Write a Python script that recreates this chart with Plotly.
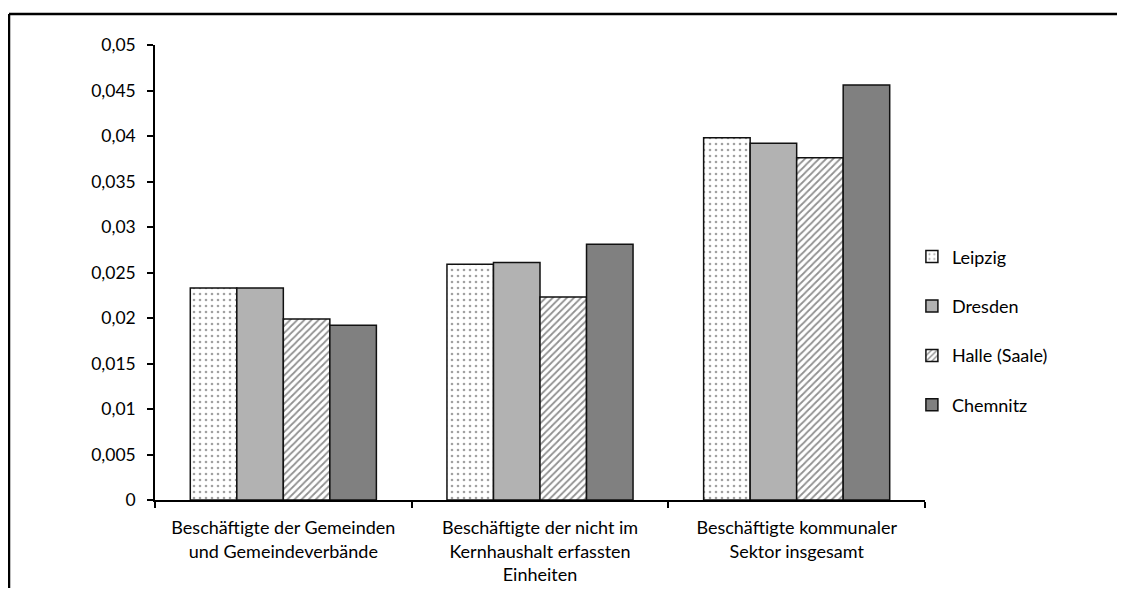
import plotly.graph_objects as go

categories = [
    "Beschäftigte der Gemeinden<br>und Gemeindeverbände",
    "Beschäftigte der nicht im<br>Kernhaushalt erfassten<br>Einheiten",
    "Beschäftigte kommunaler<br>Sektor insgesamt",
]
series_names = ["Leipzig", "Dresden", "Halle (Saale)", "Chemnitz"]
leipzig = [0.0233, 0.0259, 0.0398]
dresden = [0.0233, 0.0261, 0.0392]
halle = [0.0199, 0.0223, 0.0376]
chemnitz = [0.0192, 0.0281, 0.0456]
values = [leipzig, dresden, halle, chemnitz]

FONT = "Lato, 'Open Sans', sans-serif"

styles = [
    dict(color="white", pattern=dict(shape=".", fgcolor="#444444", bgcolor="white", size=6, solidity=0.15)),
    dict(color="#B2B2B2"),
    dict(color="white", pattern=dict(shape="/", fgcolor="#222222", bgcolor="white", size=5, solidity=0.35)),
    dict(color="#808080"),
]

fig = go.Figure()
for i, (name, vals) in enumerate(zip(series_names, values)):
    fig.add_trace(go.Bar(
        x=categories, y=vals, name=name, legendgroup=name,
        marker=dict(**styles[i], line=dict(color="#111111", width=1.5)),
    ))

fig.update_layout(
    width=1109, height=580,
    margin=dict(l=147, r=192, t=37, b=88, autoexpand=False),
    paper_bgcolor="white", plot_bgcolor="white",
    barmode="group", bargap=0.275, bargroupgap=0,
    separators=",.",
    font=dict(family=FONT, size=18, color="#000000"),
    showlegend=True,
    legend=dict(x=0.983, y=0.575, xanchor="left", yanchor="top",
                traceorder="grouped", tracegroupgap=23,
                font=dict(size=18, family=FONT), itemwidth=30,
                bgcolor="rgba(0,0,0,0)"),
    xaxis=dict(type="category", showline=True, linecolor="#000000", linewidth=1.5,
               ticks="outside", ticklen=6, tickcolor="#000000", tickwidth=1.5,
               tickson="boundaries", showgrid=False, tickfont=dict(size=18),
               ticklabelstandoff=11, automargin=False),
    yaxis=dict(range=[0, 0.05], dtick=0.005, tick0=0, showline=True,
               linecolor="#000000", linewidth=1.5, ticks="outside", ticklen=6,
               tickcolor="#000000", tickwidth=1.5, showgrid=False, zeroline=False,
               tickfont=dict(size=17.5), ticklabelstandoff=8, automargin=False),
    shapes=[
        dict(type="line", xref="paper", yref="paper",
             x0=-0.1896, x1=1.4, y0=1.068, y1=1.068,
             line=dict(color="#000000", width=2.5)),
        dict(type="line", xref="paper", yref="paper",
             x0=-0.1896, x1=-0.1896, y0=-0.4, y1=1.068,
             line=dict(color="#000000", width=2.5)),
    ],
)

fig.write_html("out.html")
